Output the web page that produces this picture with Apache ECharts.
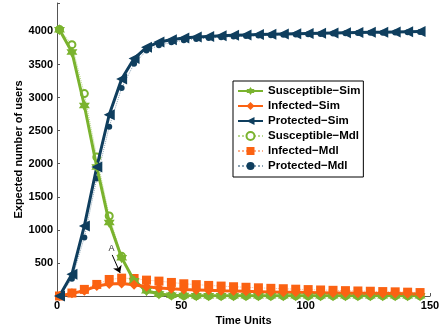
<!DOCTYPE html>
<html>
<head>
<meta charset="utf-8">
<script src="https://cdn.jsdelivr.net/npm/echarts@6/dist/echarts.min.js"></script>
<style>
  html, body { margin: 0; padding: 0; background: #fff; }
  #main { width: 443px; height: 333px; }
</style>
</head>
<body>
<div id="main"></div>
<script>
  // time steps where markers sit
  var times = [1, 6, 11, 16, 21, 26, 31, 36, 41, 46, 51, 56, 61, 66, 71, 76, 81, 86, 91, 96,
               101, 106, 111, 116, 121, 126, 131, 136, 141, 146];

  var susceptibleSim = [4025, 3690, 2880, 1950, 1110, 580, 230, 80, 30, 12, 6, 4, 3, 3, 2, 2, 2, 2, 2, 2,
                        2, 2, 2, 2, 2, 2, 2, 2, 2, 2];
  var infectedSim = [0, 40, 80, 150, 180, 190, 170, 140, 122, 108, 98, 92, 86, 80, 75, 70, 66, 62, 58, 55,
                     52, 49, 46, 44, 42, 40, 38, 36, 34, 32];
  var protectedSim = [0, 330, 1060, 1950, 2740, 3280, 3590, 3760, 3840, 3875, 3900, 3915, 3925, 3935, 3942,
                      3948, 3953, 3958, 3962, 3966, 3970, 3974, 3977, 3980, 3983, 3986, 3989, 3992, 3995, 3998];
  var susceptibleMdl = [4030, 3800, 3060, 2100, 1210, 600, 250, 95, 35, 13, 5, 2, 1, 1, 1, 1, 1, 1, 1, 1,
                        1, 1, 1, 1, 1, 1, 1, 1, 1, 1];
  var infectedMdl = [0, 45, 100, 175, 250, 270, 265, 240, 225, 205, 185, 172, 160, 150, 140, 132, 124, 116,
                     110, 103, 97, 91, 86, 81, 76, 72, 67, 63, 58, 52];
  var protectedMdl = [0, 260, 885, 1775, 2560, 3145, 3510, 3710, 3790, 3835, 3865, 3885, 3900, 3912, 3922,
                      3930, 3937, 3943, 3949, 3954, 3959, 3963, 3967, 3971, 3975, 3979, 3982, 3985, 3988, 3991];

  // arrow "A" annotation: from -> to (data coords)
  var arrowFrom = [22.2, 621];
  var arrowTo = [25.4, 348];

  var GREEN = '#7ab32e', ORANGE = '#fb6212', NAVY = '#0f3e5e';
  var hexagram = 'path://M100 0L129 50L187 50L158 100L187 150L129 150L100 200L71 150L13 150L42 100L13 50L71 50Z';
  var leftTri = 'path://M0 50L100 0L100 100Z';
  var FONT = 'Liberation Sans';

  function pairs(vals) {
    return times.map(function (t, i) { return [t, vals[i]]; });
  }

  var myChart = echarts.init(document.getElementById('main'));
  myChart.setOption({
    animation: false,
    textStyle: { fontFamily: FONT },
    grid: { left: 57, right: 13, top: 3, bottom: 37 },
    legend: {
      left: 233, top: 81,
      orient: 'vertical',
      itemWidth: 25, itemHeight: 10, itemGap: 3,
      padding: [4, 3, 5, 4],
      borderColor: '#000', borderWidth: 1, backgroundColor: '#fff',
      textStyle: { fontFamily: FONT, fontWeight: 'bold', fontSize: 11.5, color: '#000' },
      data: ['Susceptible\u2212Sim', 'Infected\u2212Sim', 'Protected\u2212Sim',
             'Susceptible\u2212Mdl', 'Infected\u2212Mdl', 'Protected\u2212Mdl']
    },
    xAxis: {
      type: 'value', min: 0, max: 150, interval: 50,
      name: 'Time Units', nameLocation: 'middle', nameGap: 13,
      nameTextStyle: { fontFamily: FONT, fontWeight: 'bold', fontSize: 11, color: '#000' },
      axisLine: { lineStyle: { color: '#555', width: 1 } },
      axisTick: { inside: true, length: 3, lineStyle: { color: '#555' } },
      axisLabel: { fontFamily: FONT, fontWeight: 'bold', fontSize: 11, color: '#000', margin: 4 },
      splitLine: { show: false }
    },
    yAxis: {
      type: 'value', min: 0, max: 4430, interval: 500,
      name: 'Expected number of users', nameLocation: 'middle', nameGap: 33,
      nameMoveOverlap: false,
      nameTextStyle: { fontFamily: FONT, fontWeight: 'bold', fontSize: 11, color: '#000' },
      axisLine: { show: true, lineStyle: { color: '#555', width: 1 } },
      axisTick: { show: true, inside: true, length: 3, lineStyle: { color: '#555' } },
      axisLabel: {
        fontFamily: FONT, fontWeight: 'bold', fontSize: 11, color: '#000', margin: 4,
        formatter: function (v) { return (v > 0 && v % 500 === 0) ? String(v) : ''; }
      },
      splitLine: { show: false }
    },
    series: [
      {
        name: 'Susceptible\u2212Mdl', type: 'line', data: pairs(susceptibleMdl),
        symbol: 'emptyCircle', symbolSize: 7,
        lineStyle: { color: '#b9d88f', width: 1, type: 'dotted' },
        itemStyle: { color: GREEN, borderColor: GREEN, borderWidth: 2 }, z: 3
      },
      {
        name: 'Infected\u2212Mdl', type: 'line', data: pairs(infectedMdl),
        symbol: 'rect', symbolSize: 9,
        lineStyle: { color: '#fdb08a', width: 1, type: 'dotted' },
        itemStyle: { color: ORANGE }, z: 3
      },
      {
        name: 'Protected\u2212Mdl', type: 'line', data: pairs(protectedMdl),
        symbol: 'circle', symbolSize: 6,
        lineStyle: { color: '#8aa3b5', width: 1, type: 'dotted' },
        itemStyle: { color: NAVY }, z: 3
      },
      {
        name: 'Susceptible\u2212Sim', type: 'line', data: pairs(susceptibleSim),
        symbol: hexagram, symbolSize: 11,
        lineStyle: { color: GREEN, width: 3 },
        itemStyle: { color: GREEN }, z: 4
      },
      {
        name: 'Infected\u2212Sim', type: 'line', data: pairs(infectedSim),
        symbol: 'diamond', symbolSize: 10,
        lineStyle: { color: ORANGE, width: 3 },
        itemStyle: { color: ORANGE }, z: 4,
        markLine: {
          silent: true, symbol: ['none', 'arrow'], symbolSize: 7,
          lineStyle: { color: '#000', width: 1, type: 'solid' },
          label: { show: true, position: 'start', formatter: 'A', fontSize: 9, color: '#333', distance: 2 },
          data: [[{ coord: arrowFrom }, { coord: arrowTo }]]
        }
      },
      {
        name: 'Protected\u2212Sim', type: 'line', data: pairs(protectedSim),
        symbol: leftTri, symbolSize: [11, 11],
        lineStyle: { color: NAVY, width: 3 },
        itemStyle: { color: NAVY }, z: 4
      }
    ]
  });
  window.onresize = myChart.resize;
</script>
</body>
</html>
